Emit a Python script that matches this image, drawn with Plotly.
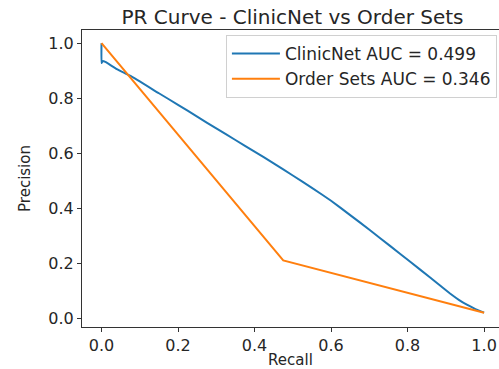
import plotly.graph_objects as go

# ClinicNet PR curve
clinicnet_recall = [0.0, 0.0, 0.003, 0.01, 0.04, 0.076, 0.15, 0.2, 0.25, 0.3, 0.35, 0.4, 0.45, 0.5,
                    0.55, 0.6, 0.65, 0.702, 0.755, 0.807, 0.859, 0.885, 0.911, 0.935, 0.955, 0.975, 1.0]
clinicnet_precision = [1.0, 0.928, 0.935, 0.932, 0.906, 0.881, 0.818, 0.776, 0.733, 0.69, 0.648, 0.606,
                       0.563, 0.519, 0.474, 0.427, 0.375, 0.32, 0.262, 0.205, 0.148, 0.119, 0.09,
                       0.066, 0.049, 0.035, 0.02]

# Order Sets PR curve
ordersets_recall = [0.0, 0.475, 1.0]
ordersets_precision = [1.0, 0.21, 0.02]

names = ["ClinicNet AUC = 0.499", "Order Sets AUC = 0.346"]
colors = ["#1f77b4", "#ff7f0e"]

x_ticks = [0.0, 0.2, 0.4, 0.6, 0.8, 1.0]
y_ticks = [0.0, 0.2, 0.4, 0.6, 0.8, 1.0]

FONT = "DejaVu Sans"

fig = go.Figure()
fig.add_trace(go.Scatter(x=clinicnet_recall, y=clinicnet_precision, mode="lines",
                         name=names[0], line=dict(color=colors[0], width=2, shape="spline", smoothing=0.3)))
fig.add_trace(go.Scatter(x=ordersets_recall, y=ordersets_precision, mode="lines",
                         name=names[1], line=dict(color=colors[1], width=2)))

axis_common = dict(showgrid=False, zeroline=False, showline=True, linecolor="#333333",
                   linewidth=1, ticks="outside", ticklen=4, tickcolor="#333333",
                   tickfont=dict(family=FONT, size=16, color="#262626"))

fig.update_layout(
    width=499, height=369,
    margin=dict(l=82, r=0, t=30, b=39),
    paper_bgcolor="white", plot_bgcolor="white",
    title=dict(text="PR Curve - ClinicNet vs Order Sets", x=(82 + 503) / 2 / 499, xanchor="center",
               y=1 - 16.5 / 369, yanchor="middle",
               font=dict(family=FONT, size=20, color="#262626")),
    xaxis=dict(range=[-0.051, 1.039], tickvals=x_ticks, ticktext=[f"{v:.1f}" for v in x_ticks],
               mirror=True,
               title=dict(text="Recall", standoff=3, font=dict(family=FONT, size=15, color="#262626")),
               **axis_common),
    yaxis=dict(range=[-0.032, 1.048], tickvals=y_ticks, ticktext=[f"{v:.1f}" for v in y_ticks],
               title=dict(text="Precision", standoff=14, font=dict(family=FONT, size=15, color="#262626")),
               **axis_common),
    legend=dict(x=0.995, y=0.983, xanchor="right", yanchor="top",
                bgcolor="white", bordercolor="#d0d0d0", borderwidth=1,
                font=dict(family=FONT, size=17, color="#262626"),
                itemwidth=48, tracegroupgap=0),
    showlegend=True,
)

fig.write_html("out.html")
